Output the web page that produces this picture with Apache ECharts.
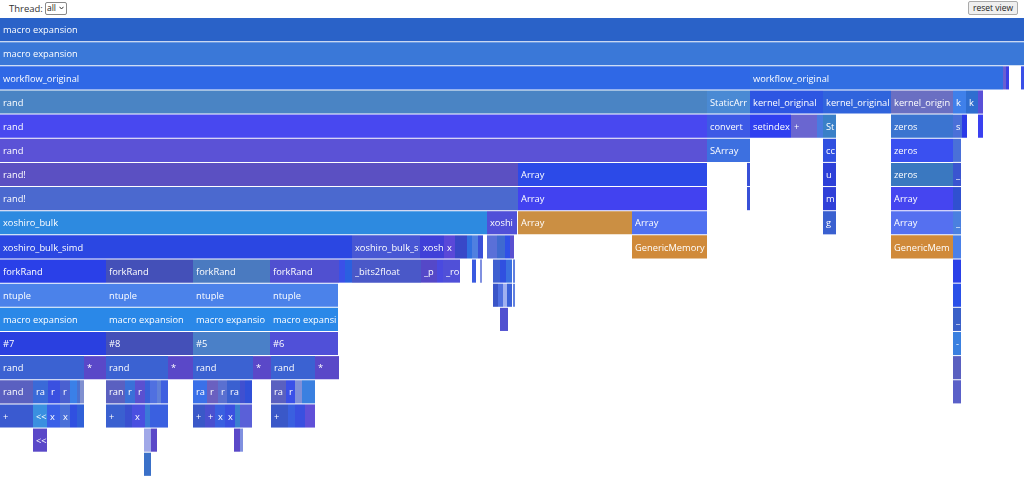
<!DOCTYPE html>
<html>
<head>
<meta charset="utf-8">
<script src="https://cdn.jsdelivr.net/npm/echarts@6/dist/echarts.min.js"></script>
<style>
  body, html { margin: 0; padding: 0; width: 100%; height: 100%; background: #fff; }
  .bar { position: absolute; top: 0; left: 0; width: 1024px; height: 18px;
         font-family: "Open Sans", sans-serif; font-size: 9.5px; color: #333; }
  .bar .lbl { position: absolute; left: 9px; top: 2px; }
  .bar .sel { position: absolute; left: 45px; top: 2px; width: 19px; height: 11px; line-height: 10px;
              font-size: 8.5px; border: 1px solid #888; border-radius: 2px; background: #fff; color: #222;
              box-sizing: content-box; padding-left: 1px; }
  .bar .sel svg { position: absolute; left: 13px; top: 3px; }
  .bar .btn { position: absolute; left: 968px; top: 1px; height: 12px; width: 48px; font-size: 8.5px;
              line-height: 12px; text-align: center; border: 1px solid #aaa; border-radius: 2px;
              background: #efefef; color: #222; }
  #chart { position: absolute; top: 18px; left: 0; width: 1024px; height: 466px; }
</style>
</head>
<body>
<div class="bar">
  <span class="lbl">Thread:</span>
  <span class="sel">all<svg width="5" height="4" viewBox="0 0 5 4"><path d="M0.5 0.8 L2.5 3 L4.5 0.8" stroke="#333" fill="none" stroke-width="1"/></svg></span>
  <span class="btn">reset view</span>
</div>
<div id="chart"></div>
<script>
// 每一帧: [深度, 起点, 终点, 函数名]
const frames = [
  [0, 0, 1024, 'macro expansion'],
  [1, 0, 1024, 'macro expansion'],
  [2, 0, 750, 'workflow_original'], [2, 750, 1003, 'workflow_original'], [2, 1003, 1006, ''], [2, 1006, 1009, ''], [2, 1021, 1024, ''],
  [3, 0, 707, 'rand'], [3, 707, 750, 'StaticArray'], [3, 750, 823, 'kernel_original'], [3, 823, 891, 'kernel_original'],
  [3, 891, 953, 'kernel_original'], [3, 953, 966, 'kernel_original'], [3, 966, 978, 'kernel_original'], [3, 978, 983, ''],
  [4, 0, 707, 'rand'], [4, 707, 750, 'convert'], [4, 750, 791, 'setindex!'], [4, 791, 817, '+'], [4, 817, 823, ''],
  [4, 823, 836, 'StaticArray'], [4, 891, 953, 'zeros'], [4, 953, 962, 'similar'], [4, 962, 967, ''], [4, 978, 983, ''],
  [5, 0, 707, 'rand'], [5, 707, 750, 'SArray'], [5, 823, 836, 'ccall'], [5, 891, 953, 'zeros'], [5, 953, 961, '#'],
  [6, 0, 518, 'rand!'], [6, 518, 707, 'Array'], [6, 747, 750, ''], [6, 823, 836, 'unsafe_convert'], [6, 891, 953, 'zeros'], [6, 953, 961, '_'],
  [7, 0, 518, 'rand!'], [7, 518, 707, 'Array'], [7, 747, 750, ''], [7, 823, 836, 'memoryref'], [7, 891, 953, 'Array'], [7, 953, 961, '#'],
  [8, 0, 487, 'xoshiro_bulk'], [8, 487, 517, 'xoshiro_bulk_simd'], [8, 518, 632, 'Array'], [8, 632, 707, 'Array'],
  [8, 823, 836, 'getindex'], [8, 891, 953, 'Array'], [8, 953, 961, '_'],
  [9, 0, 352, 'xoshiro_bulk_simd'], [9, 352, 420, 'xoshiro_bulk_simd'], [9, 420, 444, 'xoshiro_bulk_simd'], [9, 444, 455, 'xoshiro'],
  [9, 455, 467, ''], [9, 467, 472, ''], [9, 472, 478, ''], [9, 478, 483, ''],
  [9, 487, 497, ''], [9, 497, 505, ''], [9, 505, 510, ''], [9, 510, 514, ''],
  [9, 632, 707, 'GenericMemory'], [9, 891, 953, 'GenericMemory'], [9, 953, 961, '#'],
  [10, 0, 106, 'forkRand'], [10, 106, 193, 'forkRand'], [10, 193, 270, 'forkRand'], [10, 270, 339, 'forkRand'],
  [10, 339, 345, ''], [10, 345, 352, ''], [10, 352, 421, '_bits2float'], [10, 421, 437, '_plus'], [10, 437, 443, ''],
  [10, 443, 460, '_rotl'], [10, 472, 476, ''], [10, 480, 482, ''], [10, 493, 500, ''], [10, 500, 506, ''], [10, 506, 512, ''],
  [10, 513, 515, ''], [10, 953, 961, 'm'],
  [11, 0, 106, 'ntuple'], [11, 106, 193, 'ntuple'], [11, 193, 270, 'ntuple'], [11, 270, 338, 'ntuple'],
  [11, 493, 498, ''], [11, 498, 503, ''], [11, 503, 507, ''], [11, 507, 512, ''], [11, 513, 515, ''], [11, 953, 961, '#'],
  [12, 0, 106, 'macro expansion'], [12, 106, 193, 'macro expansion'], [12, 193, 270, 'macro expansion'], [12, 270, 338, 'macro expansion'],
  [12, 500, 508, ''], [12, 953, 961, '_'],
  [13, 0, 106, '#7'], [13, 106, 193, '#8'], [13, 193, 270, '#5'], [13, 270, 338, '#6'], [13, 953, 961, '-'],
  [14, 0, 84, 'rand'], [14, 84, 106, '*'], [14, 106, 168, 'rand'], [14, 168, 193, '*'],
  [14, 193, 253, 'rand'], [14, 253, 271, '*'], [14, 271, 315, 'rand'], [14, 315, 339, '*'], [14, 953, 961, 'a'],
  [15, 0, 33, 'rand'], [15, 33, 48, 'rand'], [15, 48, 60, 'rand'], [15, 60, 70, 'rand'], [15, 70, 77, ''], [15, 77, 80, ''], [15, 80, 84, ''],
  [15, 106, 125, 'rand'], [15, 125, 135, 'rand'], [15, 135, 145, 'rand'], [15, 145, 150, ''], [15, 150, 157, ''], [15, 157, 161, ''], [15, 161, 168, ''],
  [15, 193, 207, 'rand'], [15, 207, 218, 'rand'], [15, 218, 227, 'rand'], [15, 227, 240, 'rand'], [15, 240, 245, ''], [15, 245, 252, ''],
  [15, 271, 286, 'rand'], [15, 286, 295, 'rand'], [15, 295, 302, ''], [15, 302, 315, ''], [15, 953, 961, '+'],
  [16, 0, 33, '+'], [16, 33, 47, '<<'], [16, 47, 60, 'xor'], [16, 60, 70, 'xor'], [16, 70, 77, ''], [16, 77, 84, ''],
  [16, 106, 125, '+'], [16, 125, 132, ''], [16, 132, 145, 'xor'], [16, 145, 150, ''], [16, 150, 168, ''],
  [16, 193, 205, '+'], [16, 205, 215, '+'], [16, 215, 225, 'xor'], [16, 225, 235, 'xor'], [16, 235, 240, ''], [16, 240, 252, ''],
  [16, 271, 288, '+'], [16, 288, 295, 'xor'], [16, 295, 305, ''], [16, 305, 315, ''],
  [17, 33, 47, '<<'], [17, 144, 151, ''], [17, 151, 157, ''], [17, 234, 240, ''], [17, 240, 243, ''],
  [18, 144, 151, '']
];

// 每一帧的颜色（与 frames 一一对应）
const frameColors = [
  '#2a62c8',
  '#3a78d8',
  '#2f68e6', '#316ee2', '#6a5fd0', '#3a3fe6', '#3a50e8',
  '#4a84c4', '#4a8ad4', '#2d56e2', '#3064dc', '#6a6fc2', '#3f80ea', '#2f6ed0', '#5a50d8',
  '#4848f0', '#3d5ae6', '#3040f0', '#6a66d0', '#4a7ae0', '#3a80c8', '#3b74d0', '#4a70d8', '#2a3ae8', '#3a40f0',
  '#5b52d6', '#3d70e0', '#3050e0', '#3a50f0', '#4a70d8',
  '#5b50c2', '#2c4ae8', '#3850d8', '#2d40d8', '#3a78c0', '#3a55d0',
  '#4b69cf', '#4242f0', '#3850d8', '#3040d8', '#4545f0', '#3050d0',
  '#2d8ae0', '#5050d8', '#cb8f43', '#5070f0', '#3a60d0', '#5570f0', '#4a80e0',
  '#2b47e2', '#4857d4', '#4040d8', '#5a48d8', '#3848c8', '#3070e0', '#5080e0', '#3a50d8',
  '#5a70d8', '#3f6ad0', '#3050e8', '#5a50d0',
  '#d08a3a', '#d08a3a', '#4a80e8',
  '#2a40e8', '#4450b8', '#4a7ac0', '#5050d0', '#3a50e8', '#2a60e0', '#4a58c8', '#5548c8', '#4a4ae0',
  '#5050d8', '#3a5ae0', '#8090e0', '#3f60d0', '#3050e0', '#3a70e0', '#6080e0', '#2a40e8',
  '#4b82ea', '#4b82ea', '#4b82ea', '#4b82ea', '#3a55c8', '#5070e0', '#a0b0f0', '#3a60d8', '#6080e0', '#2a50e8',
  '#2a88e8', '#2a88e8', '#2a88e8', '#2a88e8', '#5050d0', '#3a60c8',
  '#2a40e0', '#4450b8', '#4a80c8', '#5050d8', '#3a80e0',
  '#3b62d2', '#5a48c8', '#3b62d2', '#5a48c8', '#3b62d2', '#5a48c8', '#3b62d2', '#5a48c8', '#5a60c0',
  '#5a60c0', '#3a6ad8', '#3a50e0', '#4a60d0', '#3a80e8', '#4a70d0', '#8090d0',
  '#5a60c0', '#3a70d8', '#5a50d0', '#3a60d8', '#5070e0', '#6080d8', '#4060e0',
  '#3a70e8', '#6a60c0', '#5a70d0', '#3a60d0', '#4050d0', '#3050d8',
  '#5a60c0', '#3a50e8', '#8090d8', '#3a80e0', '#5a60c8',
  '#3a5ad0', '#3a90e0', '#3a60e8', '#4a70d8', '#3050e0', '#3060d8',
  '#3a60d0', '#3a50d0', '#4a50e0', '#3a7ad8', '#3a60e0',
  '#3a58c8', '#4a50d0', '#3a60e0', '#3a50e0', '#3a80d0', '#5a60d8',
  '#3a58c8', '#3a60e0', '#3a50e0', '#6050d8',
  '#5a48c8', '#a0a8e8', '#5a48c8', '#5a48c8', '#8090e0',
  '#3a70c8'
];

const ROW_PX = 24.15;
const chart = echarts.init(document.getElementById('chart'));

const data = frames.map((f, i) => ({
  value: [f[1], f[2], f[0], i],
  name: f[3],
  itemStyle: { color: frameColors[i] }
}));

chart.setOption({
  animation: false,
  grid: { left: 0, right: 0, top: 0, bottom: 0 },
  xAxis: { type: 'value', min: 0, max: 1024, show: false },
  yAxis: { type: 'value', min: 0, max: 466 / ROW_PX, inverse: true, show: false },
  series: [{
    type: 'custom',
    clip: true,
    encode: { x: [0, 1], y: 2 },
    data: data,
    renderItem: function (params, api) {
      const depth = api.value(2);
      const idx = api.value(3);
      const p0 = api.coord([api.value(0), depth]);
      const p1 = api.coord([api.value(1), depth + 1]);
      const w = p1[0] - p0[0];
      const h = p1[1] - p0[1] - 1;
      const name = frames[idx][3];
      const children = [{
        type: 'rect',
        shape: { x: p0[0], y: p0[1], width: w, height: h },
        style: { fill: frameColors[idx] }
      }];
      if (name && w > 6) {
        children.push({
          type: 'text',
          style: {
            text: name,
            x: p0[0] + 3,
            y: p0[1] + h / 2 + 1,
            verticalAlign: 'middle',
            fill: '#fff',
            font: '9.3px "Open Sans", sans-serif',
            width: w - 2,
            overflow: 'truncate',
            ellipsis: ''
          }
        });
      }
      return { type: 'group', children: children };
    }
  }]
});
</script>
</body>
</html>
